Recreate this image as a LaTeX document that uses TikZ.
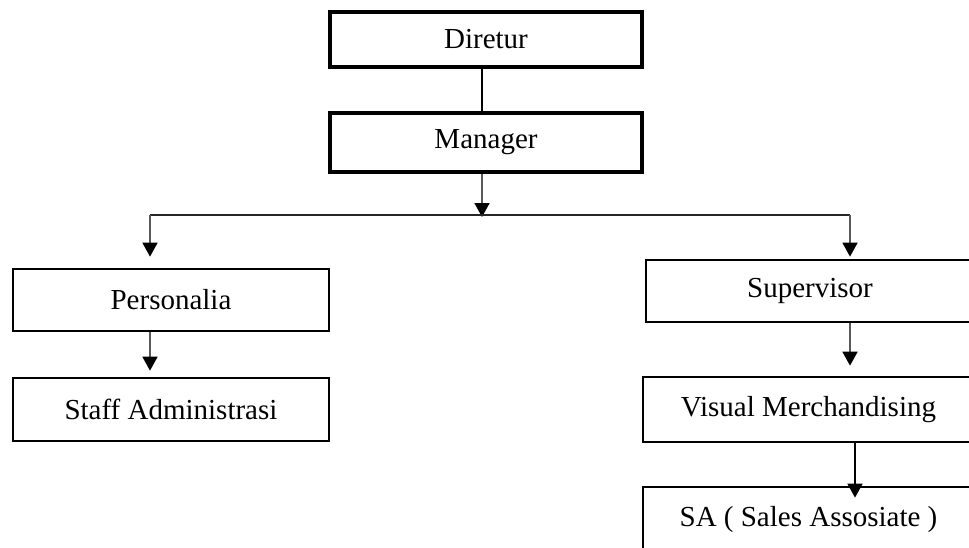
\documentclass[tikz,border=0pt]{standalone}
\usepackage{fontspec}
\setmainfont{Liberation Serif}
\usetikzlibrary{arrows.meta}

\tikzset{
  topbox/.style={draw, line width=3.3pt, minimum width=312pt, inner sep=0pt,
    font=\fontsize{29}{34}\selectfont},
  unitbox/.style={draw, line width=2.7pt, inner sep=0pt,
    font=\fontsize{29}{34}\selectfont},
  link/.style={line width=1.6pt, gray!70!black},
  linkarrow/.style={link, -{Triangle[width=15pt,length=14pt,color=black]}}
}

\begin{document}
\begin{tikzpicture}[x=1pt, y=-1pt]

    \useasboundingbox (0,0) rectangle (969,547);
    \clip (0,0) rectangle (969,547);

    % top of the chart
    \node[topbox, minimum height=55pt] (dir) at (486,39.5) {Diretur};
    \node[topbox, minimum height=59pt] (mgr) at (486,142.5) {Manager};

    % left branch
    \node[unitbox, minimum width=316pt, minimum height=62pt] (pers) at (171,300) {Personalia};
    \node[unitbox, minimum width=316pt, minimum height=63pt] (staff) at (171,409.5) {Staff Administrasi};

    % right branch
    \node[unitbox, minimum width=328pt, minimum height=62pt] (sup) at (810,291) {Supervisor};
    \node[unitbox, minimum width=331pt, minimum height=65pt] (vm) at (808.5,409.5) {Visual Merchandising};
    \node[unitbox, minimum width=331pt, minimum height=66pt] (sa) at (808.5,520) {SA ( Sales Assosiate )};

    \coordinate (mid) at (482,215); % split point under manager
    \coordinate (bl) at (150,215); % left end of split line
    \coordinate (br) at (850,215); % right end of split line

    \draw[line width=2pt] (dir.south -| mid) -- (mgr.north -| mid);
    \draw[linkarrow] (mgr.south -| mid) -- ([yshift=-2pt]mid);

    \draw[link, black!85] (bl) -- (br); % split line

    \draw[linkarrow, shorten >=11pt] (bl) -- (pers.north -| bl);
    \draw[linkarrow, shorten >=2pt] (br) -- (sup.north -| br);

    \draw[linkarrow, shorten >=6pt] (pers.south -| bl) -- (staff.north -| bl);
    \draw[linkarrow, shorten >=10pt] (sup.south -| br) -- (vm.north -| br);
    \draw[link, black, -{Triangle[width=15pt,length=14pt]}, shorten >=-12pt]
    ([xshift=5pt]vm.south -| br) -- ([xshift=5pt]sa.north -| br);

\end{tikzpicture}
\end{document}
